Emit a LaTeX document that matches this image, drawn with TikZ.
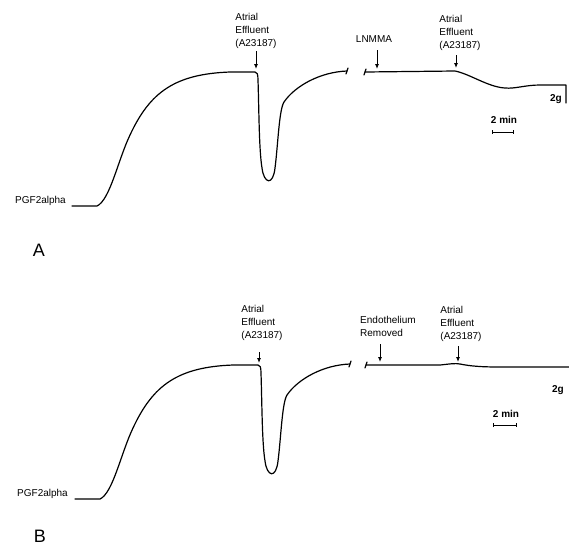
\documentclass[tikz,border=0pt]{standalone}
\usepackage{fontspec}
\setmainfont{Liberation Sans}
\usetikzlibrary{arrows.meta, positioning}
\tikzset{> = { Latex[length = 5pt, width = 4pt] }}

\begin{document}
\begin{tikzpicture}[x = 1pt, y = -1pt,
		trace/.style = {line width = 1.2pt, line join = round, line cap = round},
		lbl/.style = {font = \fontsize{10}{13}\selectfont, align = left, inner sep = 0pt},
		scalelbl/.style = {font = \fontsize{10}{10}\selectfont\bfseries, inner sep = 0pt},
		panel/.style = {font = \fontsize{18}{18}\selectfont, inner sep = 0pt},
		stim/.style = {->, line width = 0.9pt},
		timebar/.style = {{Bar[width = 4pt]}-{Bar[width = 4pt]}, line width = 0.8pt}]
		\useasboundingbox (0, 0) rectangle (569, 547);

		% contraction and relaxation, the same in both panels
		\foreach \dx/\dy in {0/0, 3/293} {
			\begin{scope}[shift = {(\dx, \dy)}]
				\draw [trace] (72, 206) -- (97, 206) .. controls (110, 200) and (118, 160) .. (130, 135)
					.. controls (150, 92) and (175, 74) .. (230, 72) -- (255, 72)
					.. controls (257, 72) and (258, 74) .. (258, 80)
					.. controls (259, 110) and (259, 150) .. (262, 168)
					.. controls (264, 184) and (273, 186) .. (275, 168)
					.. controls (278, 145) and (279, 110) .. (284, 102)
					.. controls (295, 86) and (320, 72) .. (347, 71);
				\draw [trace] (346, 74) -- (348, 68);
			\end{scope}
		}

		% panel A
		\coordinate (startA) at (72, 206);
		\node [lbl, anchor = east, xshift = -6pt, yshift = 5pt] (pgfA) at (startA) {PGF2alpha};
		\node [panel] (panA) at (39, 250) {A};

		\draw [trace] (364, 75) -- (366, 69);
		\draw [trace] (365, 72) -- (455, 71) .. controls (470, 74) and (488, 87) .. (505, 88)
			.. controls (515, 89) and (525, 85) .. (540, 85) -- (566, 85) -- (566, 103);

		\coordinate (tipA1) at (256, 69);
		\coordinate (tipLN) at (377, 69);
		\coordinate (tipA2) at (456, 68);
		\node [lbl, above = 20pt of tipA1] (effA1) {Atrial\\Effluent\\(A23187)};
		\node [lbl, above = 26pt of tipLN, xshift = -3pt] (lnmma) {LNMMA};
		\node [lbl, above = 17pt of tipA2, xshift = 4pt] (effA2) {Atrial\\Effluent\\(A23187)};
		\draw [stim, shorten <= 2pt] (effA1.south -| tipA1) -- (tipA1);
		\draw [stim, shorten <= 7pt] (lnmma.south -| tipLN) -- (tipLN);
		\draw [stim, shorten <= 4pt] (effA2.south -| tipA2) -- (tipA2);

		\node [scalelbl] (gA) at (556, 99) {2g};
		\node [scalelbl] (minA) at (504, 120) {2 min};
		\coordinate (barAl) at (492, 132);
		\coordinate (barAr) at (514, 132);
		\draw [timebar] (barAl) -- (barAr);

		% panel B
		\coordinate (startB) at (75, 499);
		\node [lbl, anchor = east, xshift = -7pt, yshift = 5pt] (pgfB) at (startB) {PGF2alpha};
		\node [panel] (panB) at (40, 536) {B};

		\draw [trace] (365, 368) -- (367, 362);
		\draw [trace] (366, 365) -- (440, 365) .. controls (450, 364) and (455, 363) .. (460, 364)
			.. controls (470, 366) and (480, 367) .. (500, 367) -- (569, 367);

		\coordinate (tipB1) at (259, 363);
		\coordinate (tipEn) at (380, 362);
		\coordinate (tipB2) at (458, 362);
		\node [lbl, above = 22pt of tipB1, xshift = 3pt] (effB1) {Atrial\\Effluent\\(A23187)};
		\node [lbl, above = 25pt of tipEn, xshift = 8pt] (endo) {Endothelium\\Removed};
		\node [lbl, above = 20pt of tipB2, xshift = 3pt] (effB2) {Atrial\\Effluent\\(A23187)};
		\draw [stim, shorten <= 11pt] (effB1.south -| tipB1) -- (tipB1);
		\draw [stim, shorten <= 7pt] (endo.south -| tipEn) -- (tipEn);
		\draw [stim, shorten <= 4pt] (effB2.south -| tipB2) -- (tipB2);

		\node [scalelbl] (gB) at (558, 390) {2g};
		\node [scalelbl] (minB) at (506, 414) {2 min};
		\coordinate (barBl) at (493, 425);
		\coordinate (barBr) at (517, 425);
		\draw [timebar] (barBl) -- (barBr);
	\end{tikzpicture}
\end{document}
